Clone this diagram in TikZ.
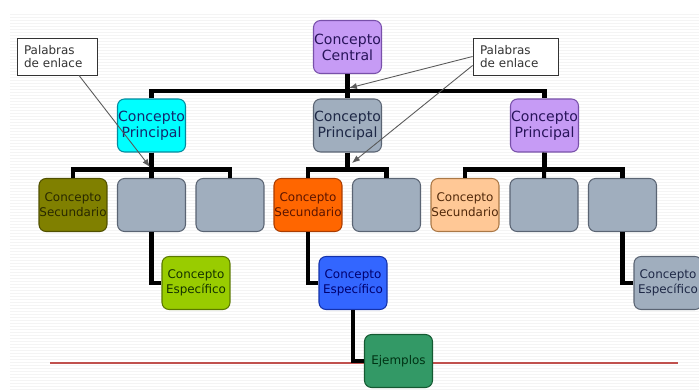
\documentclass[tikz,border=0pt]{standalone}
\usepackage{fontspec}
\setmainfont{DejaVu Sans}
\usepackage{xcolor}
\usepackage{tikz}
\usetikzlibrary{arrows.meta,positioning}

\definecolor{lila}{RGB}{198,155,245}
\definecolor{lilaB}{RGB}{120,80,170}
\definecolor{lilaT}{RGB}{40,20,90}
\definecolor{cian}{RGB}{0,255,255}
\definecolor{cianB}{RGB}{0,140,160}
\definecolor{cianT}{RGB}{20,40,110}
\definecolor{gris}{RGB}{160,174,190}
\definecolor{grisB}{RGB}{90,100,115}
\definecolor{grisT}{RGB}{30,40,70}
\definecolor{oliva}{RGB}{128,128,0}
\definecolor{olivaB}{RGB}{80,80,0}
\definecolor{olivaT}{RGB}{40,40,0}
\definecolor{naranja}{RGB}{255,102,0}
\definecolor{naranjaB}{RGB}{170,60,0}
\definecolor{naranjaT}{RGB}{90,20,0}
\definecolor{melocoton}{RGB}{255,200,150}
\definecolor{melocotonB}{RGB}{170,120,70}
\definecolor{melocotonT}{RGB}{80,40,10}
\definecolor{lima}{RGB}{153,204,0}
\definecolor{limaB}{RGB}{90,120,0}
\definecolor{limaT}{RGB}{20,50,0}
\definecolor{azul}{RGB}{51,102,255}
\definecolor{azulB}{RGB}{20,50,170}
\definecolor{azulT}{RGB}{0,0,110}
\definecolor{verde}{RGB}{51,153,102}
\definecolor{verdeB}{RGB}{20,90,50}
\definecolor{verdeT}{RGB}{0,50,20}
\definecolor{rojo}{RGB}{192,80,77}

\begin{document}
\begin{tikzpicture}[
        x=0.02cm, y=-0.02cm,
        concepto/.style={
            rectangle, rounded corners=4pt, line width=0.6pt,
            minimum width=1.36cm, minimum height=1.06cm,
            text width=1.36cm, inner xsep=0pt, align=center
        },
        grande/.style={concepto, font=\fontsize{8}{9.2}\selectfont},
        chico/.style={concepto, font=\fontsize{6.8}{8.4}\selectfont},
        conector/.style={draw=black, line width=2.3pt},
        enlace/.style={
            rectangle, draw=black!80, fill=white, line width=0.5pt,
            minimum height=0.74cm, inner xsep=0.14cm, align=left,
            font=\fontsize{6.8}{7.4}\selectfont, text=black!80
        },
        flecha/.style={draw=black!65, line width=0.5pt, -{Latex[length=4.5pt,width=3.5pt]}},
        raya/.style={draw=gray!9, line width=0.5pt}
    ]

    \useasboundingbox (0,0) rectangle (699,391);

    % fondo rayado
    \foreach \y in {14,17,...,390}
        \draw[raya] (10,\y) -- (699,\y);

    % linea roja inferior (queda por detras de Ejemplos)
    \coordinate (rojoI) at (50,363);
    \coordinate (rojoD) at (678,363);
    \draw[rojo, line width=0.8pt] (rojoI) -- (rojoD);

    % nivel 0 y 1
    \node[grande, fill=lila, draw=lilaB, text=lilaT] (central) at (347.5,47) {Concepto\\Central};
    \node[grande, fill=cian, draw=cianB, text=cianT] (princA) at (151.5,125.5) {Concepto\\Principal};
    \node[grande, fill=gris, draw=grisB, text=grisT] (princB) at (347.5,125.5) {Concepto\\Principal};
    \node[grande, fill=lila, draw=lilaB, text=lilaT] (princC) at (544.5,125.5) {Concepto\\Principal};

    % conceptos secundarios
    \node[chico, fill=oliva, draw=olivaB, text=olivaT] (secA1) at (73,205) {Concepto\\Secundario};
    \node[chico, fill=gris, draw=grisB] (secA2) at (151.5,205) {};
    \node[chico, fill=gris, draw=grisB] (secA3) at (230,205) {};
    \node[chico, fill=naranja, draw=naranjaB, text=naranjaT] (secB1) at (308,205) {Concepto\\Secundario};
    \node[chico, fill=gris, draw=grisB] (secB2) at (386.5,205) {};
    \node[chico, fill=melocoton, draw=melocotonB, text=melocotonT] (secC1) at (465,205) {Concepto\\Secundario};
    \node[chico, fill=gris, draw=grisB] (secC2) at (544,205) {};
    \node[chico, fill=gris, draw=grisB] (secC3) at (622.5,205) {};

    % conceptos especificos y ejemplos
    \node[chico, fill=lima, draw=limaB, text=limaT] (espA) at (196,283) {Concepto\\Específico};
    \node[chico, fill=azul, draw=azulB, text=azulT] (espB) at (353,283) {Concepto\\Específico};
    \node[chico, fill=gris, draw=grisB, text=grisT] (espC) at (668,283) {Concepto\\Específico};
    \node[chico, fill=verde, draw=verdeB, text=verdeT] (ejemplos) at (398.5,361) {Ejemplos};

    % uniones entre niveles
    \draw[conector] (central.south) -- (princB.north);
    \draw[conector] (central.south) -- ++(0,17) -| (princA.north);
    \draw[conector] (central.south) -- ++(0,17) -| (princC.north);

    \draw[conector] (princA.south) -- (secA2.north);
    \draw[conector] (princA.south) -- ++(0,17) -| (secA1.north);
    \draw[conector] (princA.south) -- ++(0,17) -| (secA3.north);
    \draw[conector] (princB.south) -- ++(0,17) -| (secB1.north);
    \draw[conector] (princB.south) -- ++(0,17) -| (secB2.north);
    \draw[conector] (princC.south) -- (secC2.north);
    \draw[conector] (princC.south) -- ++(0,17) -| (secC1.north);
    \draw[conector] (princC.south) -- ++(0,17) -| (secC3.north);

    \draw[conector] (secA2.south) |- (espA.west);
    \draw[conector] (secB1.south) |- (espB.west);
    \draw[conector] (secC3.south) |- (espC.west);
    \draw[conector] (espB.south) |- (ejemplos.west);

    % palabras de enlace
    \node[enlace, minimum width=1.6cm, text width=1.32cm] (enlaceA) at (57,56.5) {Palabras\\de enlace};
    \node[enlace, minimum width=1.7cm, text width=1.42cm] (enlaceB) at (515.5,56.5) {Palabras\\de enlace};

    \coordinate (puntoA) at (150,167);
    \coordinate (puntoB) at (349,88);
    \coordinate (puntoC) at (352,163);

    \draw[flecha] ([xshift=0.44cm]enlaceA.south) -- (puntoA);
    \draw[flecha] (enlaceB.west) -- (puntoB);
    \draw[flecha] ([yshift=-0.18cm]enlaceB.west) -- (puntoC);

\end{tikzpicture}
\end{document}
